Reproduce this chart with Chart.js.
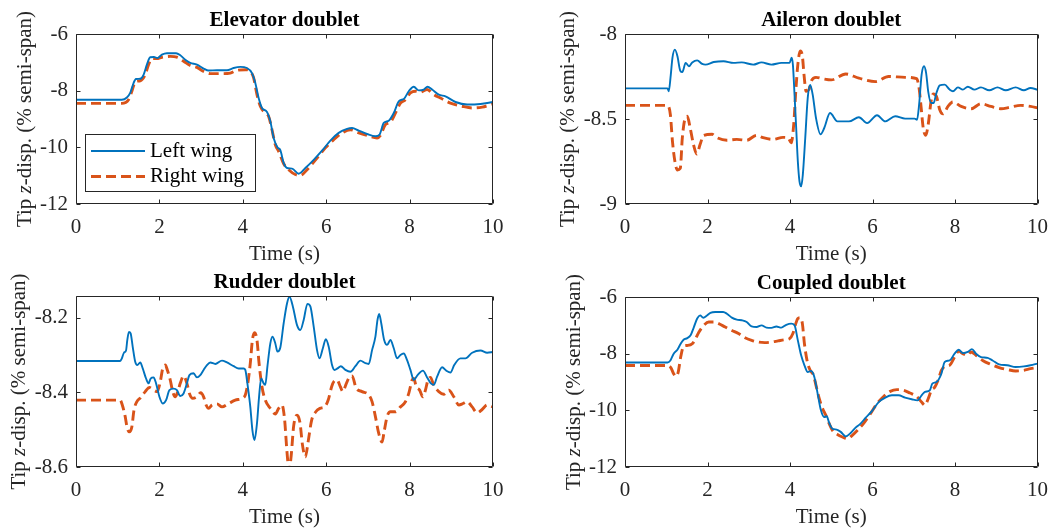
<!DOCTYPE html>
<html>
<head>
<meta charset="utf-8">
<script src="https://cdn.jsdelivr.net/npm/chart.js@4.4.1/dist/chart.umd.min.js"></script>
<style>
  body { margin: 0; background: #fff; }
  #wrap { position: relative; width: 1059px; height: 531px; }
  #wrap canvas { position: absolute; }
</style>
</head>
<body>
<div id="wrap">
  <canvas id="elevator" width="530" height="265" style="left:0;top:0"></canvas>
  <canvas id="aileron" width="529" height="265" style="left:530px;top:0"></canvas>
  <canvas id="rudder" width="530" height="266" style="left:0;top:265px"></canvas>
  <canvas id="coupled" width="529" height="266" style="left:530px;top:265px"></canvas>
</div>
<script>
// tip z-displacement, [time (s), z (% semi-span)]
const timeTicks = [0, 2, 4, 6, 8, 10];
const elevatorTicks = [-12, -10, -8, -6];
const aileronTicks = [-9, -8.5, -8];
const rudderTicks = [-8.6, -8.4, -8.2];
const coupledTicks = [-12, -10, -8, -6];

const elevatorLeft = [[0,-8.32],[1.1,-8.32],[1.22,-8.24],[1.3,-8.08],[1.38,-7.73],[1.44,-7.59],[1.54,-7.58],[1.62,-7.44],[1.7,-7.08],[1.78,-6.82],[1.87,-6.81],[1.95,-6.85],[2.06,-6.73],[2.18,-6.68],[2.4,-6.68],[2.5,-6.75],[2.62,-6.91],[2.74,-7.02],[2.9,-7.08],[3.06,-7.22],[3.18,-7.29],[3.38,-7.28],[3.62,-7.28],[3.78,-7.2],[3.94,-7.16],[4.1,-7.2],[4.22,-7.38],[4.3,-7.73],[4.38,-8.26],[4.46,-8.61],[4.58,-8.75],[4.66,-9.08],[4.74,-9.67],[4.83,-10.0],[4.9,-10.1],[4.98,-10.55],[5.06,-10.73],[5.18,-10.75],[5.34,-10.93],[5.5,-10.73],[5.7,-10.44],[5.9,-10.12],[6.1,-9.76],[6.3,-9.49],[6.5,-9.35],[6.62,-9.32],[6.78,-9.41],[6.98,-9.53],[7.18,-9.61],[7.28,-9.55],[7.38,-9.14],[7.5,-9.06],[7.62,-8.79],[7.74,-8.38],[7.87,-8.28],[7.98,-8.02],[8.1,-7.86],[8.22,-7.99],[8.34,-7.96],[8.43,-7.86],[8.54,-7.96],[8.7,-8.14],[8.86,-8.2],[9.1,-8.4],[9.38,-8.49],[9.7,-8.47],[10,-8.4]];
const elevatorRight = [[0,-8.45],[1.1,-8.45],[1.26,-8.32],[1.34,-8.02],[1.42,-7.69],[1.54,-7.65],[1.66,-7.44],[1.74,-7.08],[1.82,-6.87],[1.94,-6.87],[2.06,-6.82],[2.26,-6.79],[2.42,-6.82],[2.58,-6.96],[2.74,-7.11],[2.9,-7.18],[3.06,-7.32],[3.22,-7.4],[3.46,-7.4],[3.7,-7.38],[3.86,-7.28],[4.06,-7.26],[4.18,-7.32],[4.26,-7.55],[4.34,-8.14],[4.42,-8.55],[4.54,-8.79],[4.62,-8.91],[4.7,-9.38],[4.78,-9.91],[4.86,-10.14],[4.98,-10.58],[5.1,-10.79],[5.26,-10.96],[5.38,-10.99],[5.54,-10.79],[5.78,-10.38],[5.98,-10.02],[6.18,-9.73],[6.38,-9.49],[6.58,-9.38],[6.78,-9.49],[6.98,-9.58],[7.22,-9.67],[7.3,-9.58],[7.42,-9.2],[7.54,-9.11],[7.66,-8.79],[7.78,-8.44],[7.9,-8.32],[8.02,-8.08],[8.14,-8.02],[8.26,-8.05],[8.42,-7.96],[8.58,-8.14],[8.74,-8.26],[8.98,-8.44],[9.26,-8.55],[9.5,-8.61],[9.74,-8.58],[10,-8.47]];

const aileronLeft = [[0,-8.32],[1.03,-8.32],[1.06,-8.337],[1.11,-8.24],[1.15,-8.14],[1.21,-8.092],[1.27,-8.13],[1.34,-8.216],[1.39,-8.224],[1.47,-8.17],[1.55,-8.19],[1.63,-8.167],[1.75,-8.155],[1.87,-8.176],[1.95,-8.18],[2.15,-8.165],[2.39,-8.16],[2.63,-8.17],[2.83,-8.167],[3.11,-8.18],[3.31,-8.167],[3.55,-8.18],[3.79,-8.17],[3.99,-8.17],[4.04,-8.14],[4.07,-8.18],[4.11,-8.357],[4.15,-8.553],[4.19,-8.75],[4.23,-8.867],[4.27,-8.896],[4.31,-8.83],[4.37,-8.61],[4.43,-8.376],[4.49,-8.3],[4.55,-8.357],[4.63,-8.494],[4.74,-8.59],[4.83,-8.553],[4.97,-8.465],[5.15,-8.514],[5.43,-8.514],[5.67,-8.49],[5.87,-8.524],[6.11,-8.478],[6.31,-8.514],[6.55,-8.484],[6.79,-8.498],[7.02,-8.498],[7.08,-8.504],[7.13,-8.416],[7.19,-8.24],[7.25,-8.19],[7.3,-8.23],[7.35,-8.337],[7.42,-8.406],[7.48,-8.406],[7.55,-8.347],[7.63,-8.302],[7.75,-8.298],[7.87,-8.327],[7.95,-8.337],[8.07,-8.314],[8.19,-8.327],[8.31,-8.31],[8.47,-8.327],[8.63,-8.314],[8.83,-8.331],[9.03,-8.314],[9.23,-8.331],[9.47,-8.314],[9.67,-8.331],[9.83,-8.318],[10,-8.327]];
const aileronRight = [[0,-8.42],[1.03,-8.42],[1.1,-8.475],[1.15,-8.63],[1.21,-8.75],[1.27,-8.8],[1.34,-8.79],[1.39,-8.61],[1.46,-8.494],[1.51,-8.484],[1.58,-8.553],[1.66,-8.65],[1.74,-8.706],[1.82,-8.65],[1.91,-8.596],[2.11,-8.59],[2.23,-8.61],[2.47,-8.625],[2.71,-8.62],[2.95,-8.625],[3.19,-8.596],[3.35,-8.61],[3.59,-8.62],[3.83,-8.608],[3.95,-8.61],[4.03,-8.64],[4.09,-8.533],[4.14,-8.337],[4.19,-8.18],[4.25,-8.1],[4.3,-8.13],[4.34,-8.24],[4.39,-8.337],[4.46,-8.327],[4.51,-8.28],[4.63,-8.255],[4.79,-8.263],[5.0,-8.27],[5.35,-8.235],[5.67,-8.26],[6.07,-8.28],[6.39,-8.25],[6.79,-8.255],[7.07,-8.263],[7.13,-8.32],[7.18,-8.435],[7.23,-8.553],[7.29,-8.596],[7.35,-8.533],[7.42,-8.396],[7.47,-8.353],[7.55,-8.367],[7.63,-8.445],[7.71,-8.47],[7.83,-8.426],[7.95,-8.4],[8.15,-8.426],[8.39,-8.44],[8.63,-8.41],[8.87,-8.426],[9.11,-8.44],[9.35,-8.43],[9.59,-8.42],[9.83,-8.426],[10,-8.435]];

const rudderLeft = [[0,-8.316],[1.06,-8.316],[1.1,-8.309],[1.15,-8.294],[1.2,-8.288],[1.23,-8.26],[1.27,-8.238],[1.31,-8.242],[1.36,-8.278],[1.42,-8.318],[1.47,-8.327],[1.54,-8.32],[1.6,-8.336],[1.68,-8.363],[1.74,-8.376],[1.79,-8.363],[1.86,-8.36],[1.92,-8.376],[2.0,-8.412],[2.08,-8.43],[2.16,-8.421],[2.24,-8.394],[2.34,-8.39],[2.42,-8.394],[2.5,-8.41],[2.58,-8.403],[2.66,-8.376],[2.72,-8.354],[2.82,-8.349],[2.9,-8.36],[2.98,-8.354],[3.06,-8.34],[3.14,-8.327],[3.22,-8.32],[3.34,-8.324],[3.5,-8.315],[3.62,-8.32],[3.78,-8.33],[3.9,-8.336],[4.02,-8.336],[4.06,-8.34],[4.11,-8.376],[4.18,-8.439],[4.23,-8.501],[4.28,-8.528],[4.34,-8.483],[4.39,-8.412],[4.44,-8.363],[4.5,-8.376],[4.54,-8.38],[4.59,-8.331],[4.66,-8.269],[4.71,-8.251],[4.78,-8.269],[4.83,-8.291],[4.9,-8.28],[4.98,-8.215],[5.06,-8.162],[5.12,-8.144],[5.2,-8.17],[5.3,-8.22],[5.38,-8.233],[5.46,-8.206],[5.55,-8.163],[5.62,-8.17],[5.7,-8.224],[5.78,-8.287],[5.84,-8.309],[5.92,-8.282],[5.99,-8.258],[6.06,-8.278],[6.14,-8.327],[6.2,-8.34],[6.27,-8.336],[6.35,-8.33],[6.46,-8.34],[6.58,-8.345],[6.7,-8.33],[6.82,-8.315],[6.94,-8.322],[7.02,-8.324],[7.1,-8.287],[7.18,-8.251],[7.23,-8.206],[7.27,-8.19],[7.32,-8.215],[7.39,-8.26],[7.46,-8.273],[7.54,-8.26],[7.62,-8.282],[7.7,-8.309],[7.78,-8.3],[7.86,-8.296],[7.94,-8.314],[8.02,-8.34],[8.1,-8.367],[8.19,-8.354],[8.32,-8.342],[8.42,-8.36],[8.51,-8.376],[8.58,-8.38],[8.66,-8.358],[8.78,-8.333],[8.88,-8.342],[8.98,-8.347],[9.07,-8.327],[9.22,-8.309],[9.34,-8.309],[9.5,-8.294],[9.7,-8.288],[9.86,-8.294],[10,-8.292]];
const rudderRight = [[0,-8.421],[1.06,-8.421],[1.11,-8.434],[1.18,-8.465],[1.23,-8.497],[1.28,-8.506],[1.34,-8.492],[1.39,-8.448],[1.46,-8.425],[1.55,-8.414],[1.66,-8.398],[1.76,-8.387],[1.86,-8.394],[1.95,-8.398],[2.02,-8.372],[2.08,-8.336],[2.14,-8.327],[2.19,-8.34],[2.26,-8.367],[2.32,-8.398],[2.38,-8.412],[2.44,-8.398],[2.5,-8.376],[2.58,-8.356],[2.66,-8.376],[2.72,-8.403],[2.8,-8.416],[2.9,-8.412],[2.99,-8.401],[3.06,-8.412],[3.12,-8.434],[3.18,-8.443],[3.26,-8.434],[3.38,-8.431],[3.5,-8.439],[3.66,-8.43],[3.82,-8.421],[3.98,-8.416],[4.06,-8.407],[4.12,-8.376],[4.18,-8.322],[4.23,-8.26],[4.28,-8.24],[4.34,-8.26],[4.39,-8.322],[4.46,-8.385],[4.54,-8.421],[4.66,-8.443],[4.78,-8.458],[4.86,-8.443],[4.94,-8.434],[5.0,-8.47],[5.06,-8.56],[5.11,-8.61],[5.16,-8.57],[5.22,-8.49],[5.3,-8.461],[5.37,-8.48],[5.43,-8.54],[5.5,-8.573],[5.57,-8.53],[5.65,-8.475],[5.75,-8.452],[5.85,-8.443],[5.97,-8.438],[6.05,-8.42],[6.13,-8.385],[6.19,-8.37],[6.26,-8.367],[6.34,-8.385],[6.4,-8.398],[6.47,-8.38],[6.55,-8.36],[6.62,-8.356],[6.72,-8.389],[6.86,-8.398],[7.02,-8.407],[7.1,-8.425],[7.18,-8.465],[7.26,-8.51],[7.34,-8.533],[7.39,-8.505],[7.46,-8.465],[7.54,-8.452],[7.66,-8.452],[7.78,-8.439],[7.9,-8.425],[7.98,-8.403],[8.06,-8.367],[8.1,-8.363],[8.16,-8.385],[8.24,-8.394],[8.32,-8.412],[8.38,-8.394],[8.44,-8.367],[8.5,-8.36],[8.58,-8.381],[8.7,-8.398],[8.82,-8.405],[8.94,-8.394],[9.06,-8.412],[9.18,-8.434],[9.28,-8.43],[9.38,-8.425],[9.5,-8.439],[9.62,-8.455],[9.74,-8.446],[9.86,-8.434],[10,-8.439]];

const coupledLeft = [[0,-8.31],[1.03,-8.31],[1.1,-8.24],[1.18,-8.0],[1.27,-7.86],[1.35,-7.65],[1.42,-7.51],[1.51,-7.45],[1.59,-7.35],[1.67,-7.06],[1.75,-6.76],[1.82,-6.65],[1.9,-6.73],[1.98,-6.66],[2.07,-6.56],[2.19,-6.53],[2.38,-6.53],[2.47,-6.59],[2.59,-6.73],[2.71,-6.8],[2.83,-6.82],[2.95,-6.88],[3.07,-7.04],[3.19,-7.06],[3.31,-7.0],[3.43,-7.08],[3.55,-7.09],[3.67,-7.04],[3.79,-7.08],[3.91,-6.98],[4.03,-6.94],[4.11,-7.0],[4.19,-7.53],[4.27,-8.06],[4.35,-8.41],[4.43,-8.65],[4.51,-8.61],[4.59,-8.82],[4.67,-9.41],[4.75,-10.0],[4.83,-10.24],[4.89,-10.21],[4.95,-10.44],[5.03,-10.65],[5.13,-10.68],[5.23,-10.76],[5.35,-10.92],[5.47,-10.8],[5.59,-10.61],[5.71,-10.47],[5.83,-10.27],[5.99,-10.02],[6.15,-9.71],[6.31,-9.55],[6.47,-9.47],[6.63,-9.47],[6.79,-9.55],[6.95,-9.61],[7.09,-9.65],[7.19,-9.47],[7.27,-9.35],[7.39,-9.29],[7.45,-9.06],[7.55,-9.0],[7.67,-8.71],[7.75,-8.29],[7.87,-8.24],[7.99,-8.0],[8.09,-7.86],[8.19,-7.98],[8.31,-7.94],[8.41,-7.84],[8.51,-8.0],[8.63,-8.12],[8.79,-8.15],[8.91,-8.24],[9.07,-8.38],[9.27,-8.41],[9.47,-8.47],[9.67,-8.45],[9.83,-8.41],[10,-8.35]];
const coupledRight = [[0,-8.42],[1.03,-8.42],[1.11,-8.49],[1.18,-8.71],[1.23,-8.8],[1.29,-8.65],[1.35,-8.12],[1.42,-7.74],[1.51,-7.71],[1.63,-7.65],[1.71,-7.47],[1.79,-7.24],[1.91,-7.0],[2.03,-6.88],[2.15,-6.88],[2.27,-6.94],[2.43,-7.06],[2.59,-7.18],[2.75,-7.29],[2.91,-7.44],[3.07,-7.53],[3.23,-7.59],[3.39,-7.61],[3.55,-7.59],[3.71,-7.55],[3.87,-7.51],[3.99,-7.47],[4.07,-7.29],[4.14,-6.94],[4.19,-6.76],[4.25,-6.73],[4.3,-6.94],[4.35,-7.65],[4.42,-8.29],[4.49,-8.59],[4.57,-8.76],[4.63,-9.12],[4.71,-9.59],[4.79,-9.94],[4.87,-10.18],[4.95,-10.47],[5.03,-10.71],[5.15,-10.85],[5.27,-10.94],[5.39,-11.0],[5.51,-10.88],[5.63,-10.71],[5.79,-10.45],[5.95,-10.12],[6.11,-9.76],[6.27,-9.51],[6.43,-9.33],[6.59,-9.27],[6.75,-9.29],[6.91,-9.39],[7.07,-9.51],[7.19,-9.71],[7.27,-9.82],[7.35,-9.59],[7.43,-9.29],[7.51,-9.18],[7.59,-8.94],[7.67,-8.59],[7.75,-8.45],[7.87,-8.41],[7.99,-8.12],[8.09,-7.91],[8.19,-8.0],[8.3,-8.06],[8.39,-7.94],[8.51,-8.06],[8.67,-8.24],[8.87,-8.38],[9.07,-8.49],[9.27,-8.56],[9.47,-8.61],[9.67,-8.59],[9.83,-8.53],[10,-8.49]];

const FONT = "'Liberation Serif', 'Times New Roman', serif";
const AXIS = '#262626';
const BLUE = '#0072BD';
const ORANGE = '#D95319';

// box, inward tick marks on all four sides, title and axis labels
const axesDecor = {
  id: 'axesDecor',
  afterDatasetsDraw(chart, args, opts) {
    const { ctx, chartArea: a, scales } = chart;
    const L = Math.round(a.left) + 0.5, R = Math.round(a.right) - 0.5;
    const T = Math.round(a.top) + 0.5, B = Math.round(a.bottom) - 0.5;
    const len = 4;
    ctx.save();
    ctx.strokeStyle = AXIS;
    ctx.lineWidth = 1;
    ctx.beginPath();
    ctx.rect(L, T, R - L, B - T);
    scales.x.ticks.forEach(t => {
      const px = Math.round(scales.x.getPixelForValue(t.value)) + 0.5;
      ctx.moveTo(px, B); ctx.lineTo(px, B - len);
      ctx.moveTo(px, T); ctx.lineTo(px, T + len);
    });
    scales.y.ticks.forEach(t => {
      const py = Math.round(scales.y.getPixelForValue(t.value)) + 0.5;
      ctx.moveTo(L, py); ctx.lineTo(L + len, py);
      ctx.moveTo(R, py); ctx.lineTo(R - len, py);
    });
    ctx.stroke();

    ctx.fillStyle = '#000';
    ctx.textAlign = 'center';
    ctx.textBaseline = 'alphabetic';
    ctx.font = 'bold 21px ' + FONT;
    ctx.fillText(opts.title, (a.left + a.right) / 2, a.top - 8);

    ctx.fillStyle = AXIS;
    ctx.font = '21px ' + FONT;
    ctx.fillText('Time (s)', (a.left + a.right) / 2, a.bottom + 56);

    // y label, with an italic z
    let tickW = 0;
    scales.y.ticks.forEach(t => { tickW = Math.max(tickW, ctx.measureText(t.label).width); });
    const parts = [['Tip ', ''], ['z', 'italic '], ['-disp. (% semi-span)', '']];
    let total = 0;
    parts.forEach(p => { ctx.font = p[1] + '21px ' + FONT; total += ctx.measureText(p[0]).width; });
    ctx.translate(a.left - 8 - tickW - 9.5, (a.top + a.bottom) / 2);
    ctx.rotate(-Math.PI / 2);
    ctx.textAlign = 'left';
    let x = -total / 2;
    parts.forEach(p => {
      ctx.font = p[1] + '21px ' + FONT;
      ctx.fillText(p[0], x, 0);
      x += ctx.measureText(p[0]).width;
    });
    ctx.restore();
  }
};

// boxed legend inside the axes
const boxLegend = {
  id: 'boxLegend',
  afterDraw(chart, args, opts) {
    if (!opts.show) return;
    const { ctx } = chart;
    const { x, y, w, h } = opts;
    ctx.save();
    ctx.fillStyle = '#fff';
    ctx.fillRect(x, y, w, h);
    ctx.strokeStyle = AXIS;
    ctx.lineWidth = 1;
    ctx.strokeRect(x + 0.5, y + 0.5, w, h);
    ctx.font = '21px ' + FONT;
    ctx.textBaseline = 'middle';
    ctx.textAlign = 'left';
    chart.data.datasets.forEach((ds, i) => {
      const cy = y + 17 + i * 25.5;
      ctx.strokeStyle = ds.borderColor;
      ctx.lineWidth = ds.borderWidth;
      ctx.setLineDash(ds.borderDash || []);
      ctx.beginPath();
      ctx.moveTo(x + 6, cy);
      ctx.lineTo(x + 60, cy);
      ctx.stroke();
      ctx.setLineDash([]);
      ctx.fillStyle = '#000';
      ctx.fillText(ds.label, x + 65, cy);
    });
    ctx.restore();
  }
};

function makePanel(id, title, left, right, yTicks, yMin, yMax, area, legend) {
  const canvas = document.getElementById(id);
  const line = (label, pts, color, width, dash) => ({
    label,
    data: pts.map(p => ({ x: p[0], y: p[1] })),
    borderColor: color,
    borderWidth: width,
    borderDash: dash,
    pointRadius: 0,
    fill: false,
    cubicInterpolationMode: 'monotone',
    clip: 0
  });
  return new Chart(canvas, {
    type: 'line',
    data: {
      datasets: [
        line('Left wing', left, BLUE, 1.9, []),
        line('Right wing', right, ORANGE, 2.9, [10, 5])
      ]
    },
    options: {
      responsive: false,
      animation: false,
      devicePixelRatio: 1,
      layout: { padding: { left: 0, top: area.top, right: canvas.width - area.right, bottom: 0 } },
      scales: {
        x: {
          type: 'linear',
          min: 0,
          max: 10,
          grid: { display: false, drawTicks: false },
          border: { display: false },
          ticks: { font: { family: FONT, size: 21 }, color: AXIS, padding: 11, maxRotation: 0, callback: v => String(v) },
          afterBuildTicks: s => { s.ticks = timeTicks.map(v => ({ value: v })); },
          afterFit: s => { s.height = canvas.height - area.bottom; }
        },
        y: {
          type: 'linear',
          min: yMin,
          max: yMax,
          grid: { display: false, drawTicks: false },
          border: { display: false },
          ticks: { font: { family: FONT, size: 21 }, color: AXIS, padding: 8, callback: v => String(v) },
          afterBuildTicks: s => { s.ticks = yTicks.map(v => ({ value: v })); },
          afterFit: s => { s.width = area.left; }
        }
      },
      plugins: {
        legend: { display: false },
        tooltip: { enabled: false },
        axesDecor: { title },
        boxLegend: legend || { show: false }
      }
    },
    plugins: [axesDecor, boxLegend]
  });
}

makePanel('elevator', 'Elevator doublet', elevatorLeft, elevatorRight, elevatorTicks, -12, -6,
  { left: 76, right: 493, top: 34, bottom: 204 },
  { show: true, x: 85, y: 134, w: 170, h: 57 });
makePanel('aileron', 'Aileron doublet', aileronLeft, aileronRight, aileronTicks, -9, -8,
  { left: 95, right: 512, top: 34, bottom: 204 });
makePanel('rudder', 'Rudder doublet', rudderLeft, rudderRight, rudderTicks, -8.6, -8.142,
  { left: 76, right: 493, top: 31, bottom: 202 });
makePanel('coupled', 'Coupled doublet', coupledLeft, coupledRight, coupledTicks, -12, -6,
  { left: 95, right: 512, top: 32, bottom: 202 });
</script>
</body>
</html>
